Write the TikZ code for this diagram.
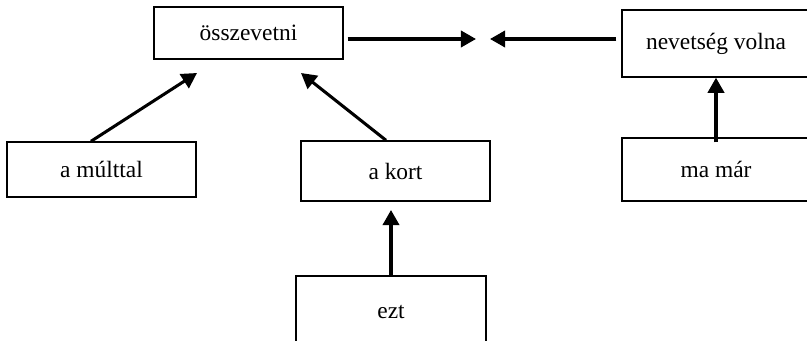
\documentclass[tikz,border=0pt]{standalone}
\usepackage{fontspec}
\setmainfont{Liberation Serif}
\usepackage{tikz}
\usetikzlibrary{arrows.meta}

\begin{document}
\begin{tikzpicture}[x=0.03cm, y=-0.03cm,
		box/.style={draw, line width=1.2pt, inner sep=0pt, align=center, font=\fontsize{20}{24}\selectfont},
		arr/.style={-{Triangle[length=13pt, width=14pt]}, line width=2.6pt}]

		% Frame
		\useasboundingbox (0,0) rectangle (807,341);
		\clip (0,0) rectangle (807,341);

		% Boxes
		\node[box, minimum width=189*0.03cm, minimum height=52*0.03cm] 	(ossz) 		at (248.5, 33)  {összevetni};
		\node[box, minimum width=188*0.03cm, minimum height=67*0.03cm] 	(nev) 		at (716, 43.5)  {nevetség volna};
		\node[box, minimum width=189*0.03cm, minimum height=55*0.03cm] 	(multtal) 	at (101.5, 169.5) {a múlttal};
		\node[box, minimum width=189*0.03cm, minimum height=60*0.03cm] 	(kort) 		at (395.5, 171) {a kort};
		\node[box, minimum width=188*0.03cm, minimum height=63*0.03cm] 	(mamar) 	at (716, 169.5) {ma már};
		\node[box, minimum width=190*0.03cm, minimum height=72*0.03cm] 	(ezt) 		at (391, 312) {ezt};

		% Arrow tips
		\coordinate (tipright) 	at (476, 39);
		\coordinate (tipleft) 	at (490, 39);
		\coordinate (tipmult) 	at (197, 73);
		\coordinate (tipkort) 	at (301, 73);
		\coordinate (tipezt) 	at (391, 210);

		% Arrows
		\draw[arr] ([shift={(4,6)}]ossz.east) -- (tipright);
		\draw[arr] ([shift={(-5,-4.5)}]nev.west) -- (tipleft);
		\draw[arr] ([xshift=-10.5*0.03cm]multtal.north) -- (tipmult);
		\draw[arr] ([xshift=-9.5*0.03cm]kort.north) -- (tipkort);
		\draw[arr] (ezt.north) -- (tipezt);
		\draw[arr] ([yshift=-5*0.03cm]mamar.north) -- (nev.south);

	\end{tikzpicture}
\end{document}
